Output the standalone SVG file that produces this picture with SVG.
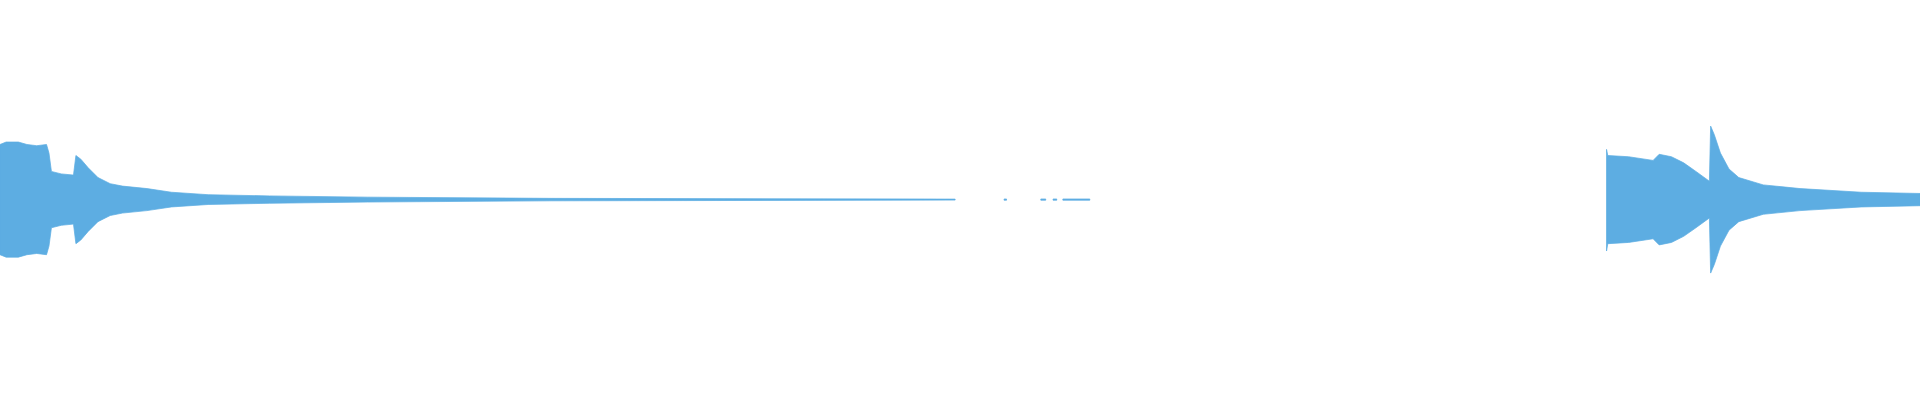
<svg xmlns="http://www.w3.org/2000/svg" width="1920" height="400" viewBox="0 0 1920 400">
<style>.w{fill:#5dade2;stroke:#5dade2;stroke-width:0.6}</style>
<rect width="1920" height="400" fill="#fff"/>
<g transform="scale(1.2245)">
<path class="w" d="M0,118 L5,116 L15,116 L22,118 L30,119 L38,118 L40,125 L42,140 L50,142 L60,143 L62,127 L66,130 L72,137 L80,145 L90,150 L100,152 L120,154 L140,157 L170,159 L220,160 L300,161 L450,162 L780,162.6 L780,163.4 L450,164 L300,165 L220,166 L170,167 L140,169 L120,172 L100,174 L90,176 L80,181 L72,189 L66,196 L62,199 L60,183 L50,184 L42,186 L40,201 L38,208 L30,207 L22,208 L15,210 L5,210 L0,208 Z"/>
<path class="w" d="M850,162.5 h4 v1 h-4z M860,162.5 h3 v1 h-3z M868,162.5 h22 v1 h-22z M820,162.5 h2 v1 h-2z"/>
<path class="w" d="M1312,122 L1313,127 L1330,128 L1350,131 L1355,126 L1365,128 L1375,133 L1385,140 L1396,148 L1397,103 L1400,110 L1405,125 L1412,138 L1420,145 L1440,151 L1470,154 L1520,157 L1568,158 L1568,168 L1520,169 L1470,172 L1440,175 L1420,181 L1412,188 L1405,201 L1400,216 L1397,223 L1396,178 L1385,186 L1375,193 L1365,198 L1355,200 L1350,195 L1330,198 L1313,199 L1312,205 Z"/>
</g>
</svg>
